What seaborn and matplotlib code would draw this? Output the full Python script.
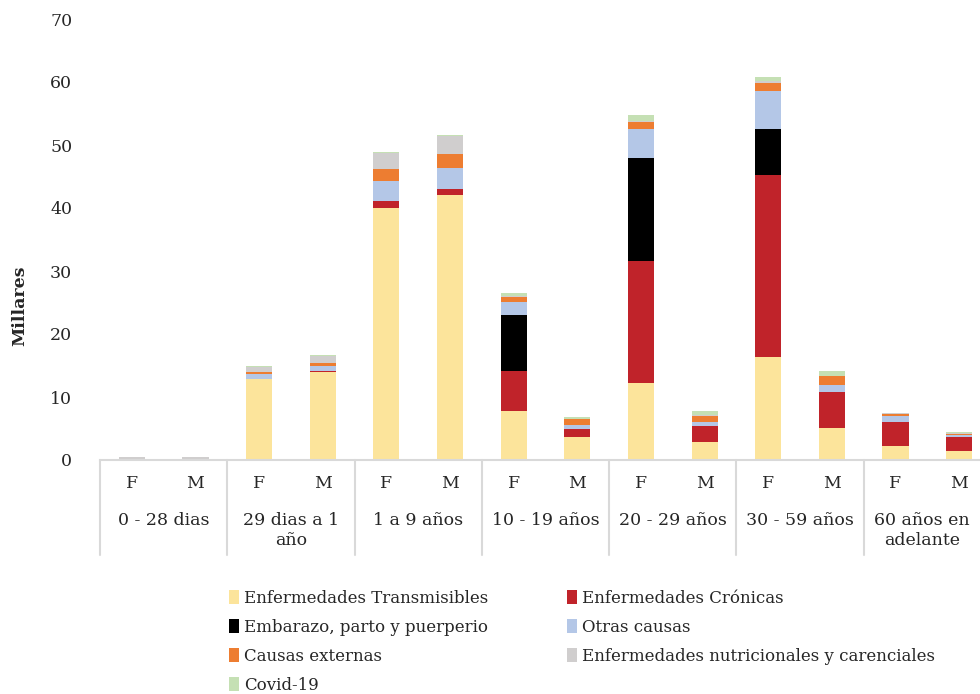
import numpy as np
import pandas as pd
import matplotlib
matplotlib.use('Agg')
import matplotlib.pyplot as plt
import matplotlib.transforms as mtransforms
from matplotlib.patches import Patch
import seaborn as sns

# Datos (miles de defunciones):
grupos = ['0 - 28 dias', '29 dias a 1\naño', '1 a 9 años', '10 - 19 años',
          '20 - 29 años', '30 - 59 años', '60 años en\nadelante']
sexos = ['F', 'M']

transmisibles = [0.2, 0.2, 12.8, 14.0, 40.0, 42.1, 7.7, 3.7, 12.2, 2.9, 16.3, 5.1, 2.3, 1.4]
cronicas      = [0, 0, 0.1, 0.05, 1.1, 0.9, 6.5, 1.2, 19.4, 2.5, 28.9, 5.7, 3.7, 2.2]
embarazo      = [0, 0, 0, 0, 0, 0, 8.8, 0, 16.3, 0, 7.4, 0, 0, 0]
otras         = [0, 0, 0.8, 0.9, 3.2, 3.3, 2.1, 0.6, 4.7, 0.6, 6.0, 1.1, 1.0, 0.4]
externas      = [0, 0, 0.3, 0.4, 1.9, 2.3, 0.8, 1.0, 1.1, 1.0, 1.3, 1.4, 0.3, 0.2]
nutricionales = [0.2, 0.2, 0.8, 1.1, 2.5, 2.8, 0.2, 0.05, 0.1, 0.2, 0.2, 0.1, 0.1, 0.1]
covid         = [0, 0, 0.1, 0.2, 0.2, 0.2, 0.4, 0.2, 1.0, 0.5, 0.7, 0.8, 0.1, 0.1]

causas = ['Enfermedades Transmisibles', 'Enfermedades Crónicas', 'Embarazo, parto y puerperio',
          'Otras causas', 'Causas externas', 'Enfermedades nutricionales y carenciales', 'Covid-19']
colores = ['#FCE49B', '#C0232A', '#000000', '#B4C7E7', '#ED7D31', '#D0CECE', '#C5E0B4']

### Estilo:
sns.set_style('white')
plt.rcParams['font.family'] = ['DejaVu Serif']
plt.rcParams['text.color'] = '#262626'

# Tabla con una fila por barra y las sumas acumuladas por causa:
barras = [f'{g}|{s}' for g in range(len(grupos)) for s in sexos]
df = pd.DataFrame({'barra': barras})
acumulado = np.zeros(len(barras))
for causa, valores in zip(causas, [transmisibles, cronicas, embarazo, otras, externas, nutricionales, covid]):
    acumulado = acumulado + np.array(valores)
    df[causa] = acumulado

fig = plt.figure(figsize=(9.8, 6.94), dpi=100)
ax = fig.add_axes([100/980, 1 - 460/694, 891/980, 441/694])

# Barras apiladas: dibujar de la suma total hacia abajo
for causa, color in reversed(list(zip(causas, colores))):
    sns.barplot(data=df, x='barra', y=causa, order=barras, color=color, saturation=1,
                width=0.41, errorbar=None, linewidth=0, ax=ax)

ax.set_xlim(-0.5, 13.5)
ax.set_ylim(0, 70)
ax.set_yticks(range(0, 71, 10))
ax.tick_params(axis='y', length=0, pad=20, labelsize=12.5)
ax.tick_params(axis='x', length=0, pad=11, labelsize=12.5)
ax.set_xticks(range(len(barras)))
ax.set_xticklabels(sexos * len(grupos))
ax.set_xlabel('')
ax.set_ylabel('Millares', fontsize=12.5, fontweight='bold')
ax.yaxis.set_label_coords(-0.081, 0.35)

for lado in ['left', 'right', 'top']:
    ax.spines[lado].set_visible(False)
ax.spines['bottom'].set_color('#d9d9d9')
ax.spines['bottom'].set_linewidth(1.5)

# Lineas divisorias y etiquetas de los grupos de edad:
trans = mtransforms.blended_transform_factory(ax.transData, ax.transAxes)
for i in range(len(grupos) + 1):
    ax.plot([2*i - 0.5, 2*i - 0.5], [0, -0.215], color='#d9d9d9', lw=1.5,
            transform=trans, clip_on=False)
for i, g in enumerate(grupos):
    xg = 2*i + 0.5 if i < len(grupos) - 1 else 2*i + 0.42
    ax.text(xg, -0.117, g, transform=trans, ha='center', va='top',
            fontsize=12.5, linespacing=1.3)

# Leyenda en filas (Excel): reordenar para llenar por columnas
orden = [0, 2, 4, 6, 1, 3, 5]
handles = [Patch(facecolor=colores[k], edgecolor='none') for k in orden]
labels = [causas[k] for k in orden]
fig.legend(handles, labels, loc='upper left', bbox_to_anchor=(222/980, 1 - 583/694),
           ncol=2, frameon=False, fontsize=12, handlelength=0.6, handleheight=0.9,
           handletextpad=0.3, labelspacing=0.72, columnspacing=4.75, borderaxespad=0)

plt.savefig('out.png', dpi=100)
